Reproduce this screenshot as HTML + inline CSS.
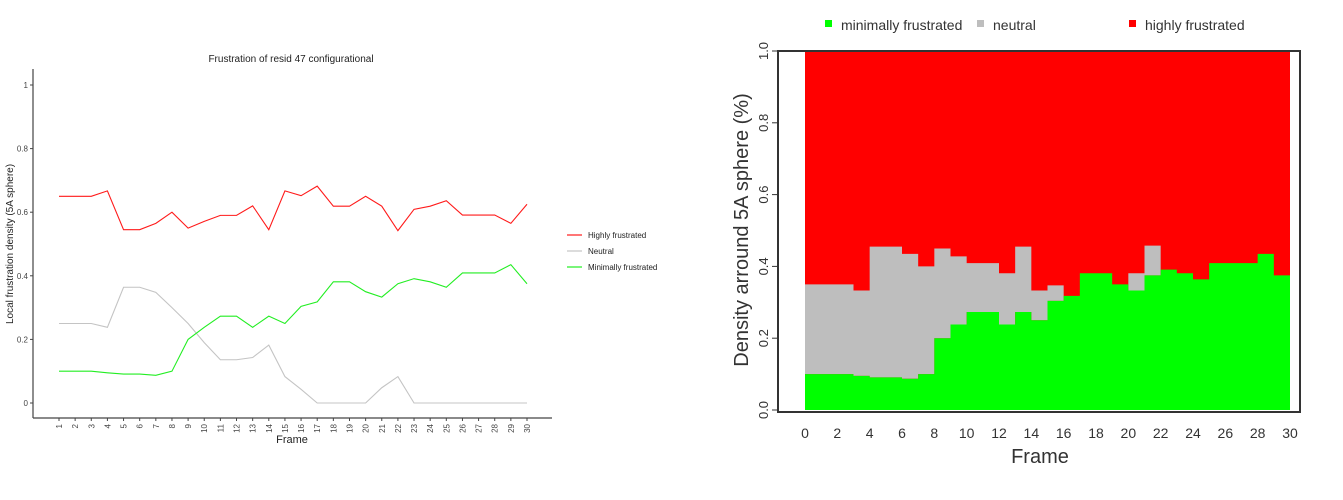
<!DOCTYPE html>
<html><head><meta charset="utf-8"><style>
body{margin:0;background:#fff;width:1343px;height:500px;overflow:hidden;font-family:"Liberation Sans",sans-serif}
svg{position:absolute;left:0;top:0}
</style></head><body>
<svg id="c" width="1343" height="500"></svg>
<script>
const frames=[1,2,3,4,5,6,7,8,9,10,11,12,13,14,15,16,17,18,19,20,21,22,23,24,25,26,27,28,29,30];
const highly=[0.65,0.65,0.65,0.667,0.545,0.545,0.565,0.6,0.55,0.571,0.59,0.59,0.62,0.545,0.667,0.652,0.682,0.619,0.619,0.65,0.619,0.542,0.609,0.619,0.636,0.591,0.591,0.591,0.565,0.625];
const neutral=[0.25,0.25,0.25,0.238,0.364,0.364,0.348,0.3,0.25,0.19,0.136,0.136,0.143,0.182,0.083,0.043,0,0,0,0,0.048,0.083,0,0,0,0,0,0,0,0];
const minimal=[0.1,0.1,0.1,0.095,0.091,0.091,0.087,0.1,0.2,0.238,0.273,0.273,0.238,0.273,0.25,0.304,0.318,0.381,0.381,0.35,0.333,0.375,0.391,0.381,0.364,0.409,0.409,0.409,0.435,0.375];
const leftYTicks=[0,0.2,0.4,0.6,0.8,1];
const rightYTicks=["0.0","0.2","0.4","0.6","0.8","1.0"];
const rightXTicks=[0,2,4,6,8,10,12,14,16,18,20,22,24,26,28,30];

const NS="http://www.w3.org/2000/svg";
const svg=document.getElementById('c');
function el(t,a,txt,p){const e=document.createElementNS(NS,t);for(const k in a)e.setAttribute(k,a[k]);if(txt!=null)e.textContent=txt;(p||svg).appendChild(e);return e;}

// LEFT chart
const lx=f=>59+(f-1)*(527-59)/29;
const ly=v=>403-v*318;
let t=el('text',{x:291,y:62,'font-size':10,'text-anchor':'middle',fill:'#222'},'Frustration of resid 47 configurational');


let a=el('line',{x1:33,y1:69,x2:33,y2:418,stroke:'#444','stroke-width':1.2});


a=el('line',{x1:33,y1:418,x2:552,y2:418,stroke:'#444','stroke-width':1.2});


leftYTicks.forEach(v=>{
  el('line',{x1:30,y1:ly(v),x2:33,y2:ly(v),stroke:'#444'});
  const tx=el('text',{x:28,y:ly(v)+3,'font-size':8,'text-anchor':'end',fill:'#444'},String(v));
  
  
});
frames.forEach(f=>{
  el('line',{x1:lx(f),y1:418,x2:lx(f),y2:421,stroke:'#444'});
  const tx=el('text',{x:0,y:0,'font-size':8,'text-anchor':'end',fill:'#444',transform:`translate(${lx(f)+3},${424}) rotate(-90)`},String(f));
  
  
});
t=el('text',{x:292,y:443,'font-size':11,'text-anchor':'middle',fill:'#222'},'Frame');


t=el('text',{x:0,y:0,'font-size':10,'text-anchor':'middle',fill:'#222',transform:'translate(13,244) rotate(-90)'},'Local frustration density (5A sphere)');


[[highly,'#ff1a1a','line-highly'],[neutral,'#c4c4c4','line-neutral'],[minimal,'#22ee22','line-minimal']].forEach(([d,c,n])=>{
  const p=el('polyline',{points:d.map((v,i)=>lx(frames[i])+','+ly(v)).join(' '),fill:'none',stroke:c,'stroke-width':1.1});
  
  
});
[['Highly frustrated','#ff1a1a',235],['Neutral','#c4c4c4',251],['Minimally frustrated','#22ee22',267]].forEach(([n,c,y])=>{
  const g=el('g',{});
  
  
  el('line',{x1:567,y1:y,x2:582,y2:y,stroke:c,'stroke-width':1.2},null,g);
  el('text',{x:588,y:y+3,'font-size':8,fill:'#222'},n,g);
});

// RIGHT chart
const rx=f=>805+f*(1290-805)/30;
const ry=v=>410-v*(410-51);
const red=el('rect',{x:rx(0),y:ry(1),width:rx(30)-rx(0),height:ry(0)-ry(1),fill:'#ff0000'});


function stepPath(topFn,botFn){
  let top='',bot=[];
  frames.forEach((f,i)=>{
    top+=(i?'L':'M')+rx(f-1)+','+ry(topFn(i))+'L'+rx(f)+','+ry(topFn(i));
    bot.unshift('L'+rx(f)+','+ry(botFn(i))+'L'+rx(f-1)+','+ry(botFn(i)));
  });
  return top+bot.join('')+'Z';
}
let ar=el('path',{d:stepPath(i=>minimal[i]+neutral[i],i=>minimal[i]),fill:'#bebebe'});


ar=el('path',{d:stepPath(i=>minimal[i],i=>0),fill:'#00ff00'});


const box=el('rect',{x:778,y:51,width:522,height:361,fill:'none',stroke:'#333','stroke-width':2});


rightYTicks.forEach(s=>{
  const v=parseFloat(s);
  el('line',{x1:772,y1:ry(v),x2:778,y2:ry(v),stroke:'#333'});
  const tx=el('text',{x:0,y:0,'font-size':13,'text-anchor':'middle',fill:'#333',transform:`translate(${768},${ry(v)}) rotate(-90)`},s);
  
  
});
rightXTicks.forEach(f=>{
  const tx=el('text',{x:rx(f),y:438,'font-size':14,'text-anchor':'middle',fill:'#333'},String(f));
  
  
});
t=el('text',{x:1040,y:463,'font-size':20,'text-anchor':'middle',fill:'#333'},'Frame');


t=el('text',{x:0,y:0,'font-size':20,'text-anchor':'middle',fill:'#333',transform:'translate(748,230) rotate(-90)'},'Density arround 5A sphere (%)');


[['minimally frustrated','#00ff00',825],['neutral','#bebebe',977],['highly frustrated','#ff0000',1129]].forEach(([n,c,x])=>{
  const g=el('g',{});
  
  
  el('rect',{x:x,y:20,width:7,height:7,fill:c},null,g);
  el('text',{x:x+16,y:30,'font-size':14,fill:'#333'},n,g);
});
</script>
</body></html>
